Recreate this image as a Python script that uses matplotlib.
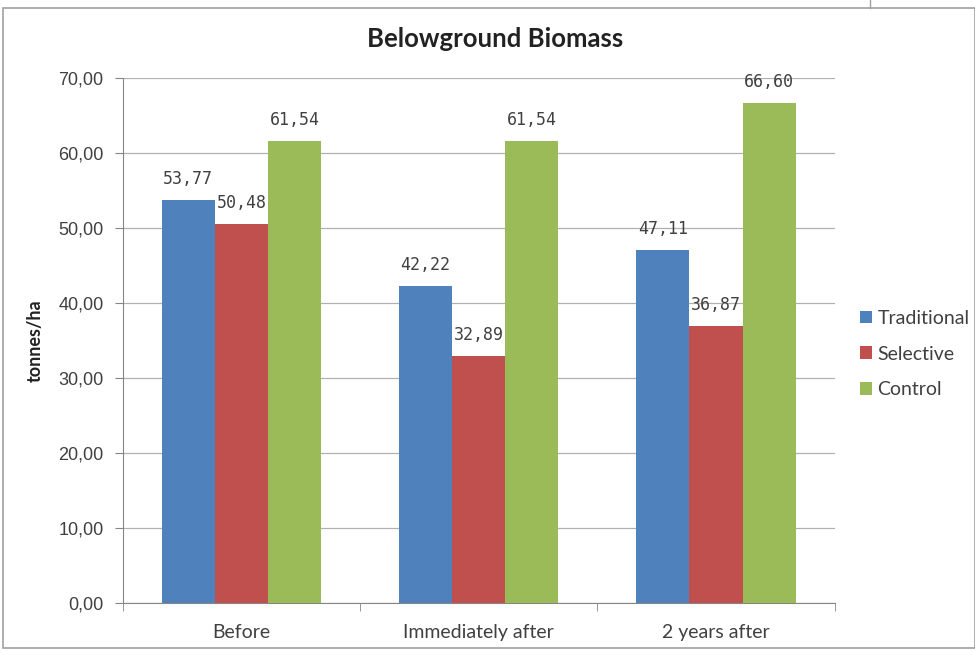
import matplotlib.pyplot as plt
import numpy as np
from matplotlib.patches import Rectangle
from matplotlib.lines import Line2D

plt.rcParams['font.family'] = ['Lato', 'DejaVu Sans']

# Données
categories = ['Before', 'Immediately after', '2 years after']
series = ['Traditional', 'Selective', 'Control']
traditional = [53.77, 42.22, 47.11]
selective = [50.48, 32.89, 36.87]
control = [61.54, 61.54, 66.60]
colors = ['#4F81BD', '#C0504D', '#9BBB59']
yticks = np.arange(0, 71, 10)

fig = plt.figure(figsize=(9.75, 6.55), dpi=100)
ax = fig.add_axes([0.126, 0.0794, 0.730, 0.8016])

x = np.arange(len(categories))
w = 0.224
for i, (vals, name, c) in enumerate(zip([traditional, selective, control], series, colors)):
    pos = x + (i - 1) * w
    ax.bar(pos, vals, width=w, color=c, label=name, zorder=3)
    for p, v in zip(pos, vals):
        ax.text(p, v + 1.6, f'{v:.2f}'.replace('.', ','), ha='center', va='bottom',
                fontsize=12, family='DejaVu Sans Mono', color='#404040', zorder=4)

ax.set_xlim(-0.5, 2.5)
ax.set_ylim(0, 70)
ax.set_yticks(yticks)
ax.set_yticklabels([f'{t:.2f}'.replace('.', ',') for t in yticks], fontsize=13,
                   family='Liberation Sans', color='#404040')
ax.set_xticks(x)
ax.set_xticklabels(categories, fontsize=14, color='#404040')
ax.set_xticks([-0.5, 0.5, 1.5, 2.5], minor=True)
ax.tick_params(axis='x', which='major', length=0, pad=15)
ax.tick_params(axis='x', which='minor', length=6, color='#868686', direction='out')
ax.tick_params(axis='y', length=6, color='#868686', direction='out', pad=8)
ax.grid(axis='y', color='#B0B0B0', linewidth=0.9, zorder=0)
for s in ['top', 'right']:
    ax.spines[s].set_visible(False)
ax.spines['left'].set_color('#868686')
ax.spines['bottom'].set_color('#868686')

ax.set_ylabel('tonnes/ha', fontsize=13, fontweight='bold', color='#222222', labelpad=10)
fig.text(0.508, 0.940, 'Belowground Biomass', ha='center', va='center',
         fontsize=18.5, fontweight='bold', color='#222222')

ax.legend(loc='center left', bbox_to_anchor=(1.035, 0.474), frameon=False, fontsize=14,
          handlelength=0.62, handleheight=0.62, handletextpad=0.3, labelspacing=0.97,
          labelcolor='#404040', borderaxespad=0, borderpad=0)

# Cadre du graphique
fig.patches.append(Rectangle((0.003, 0.01), 0.997, 0.978, transform=fig.transFigure,
                             fill=False, edgecolor='#A0A0A0', linewidth=1.2))
fig.lines.append(Line2D([0.892, 0.892], [0.988, 1.0], transform=fig.transFigure,
                        color='#A0A0A0', linewidth=1.0))

fig.savefig('out.png', dpi=100)
